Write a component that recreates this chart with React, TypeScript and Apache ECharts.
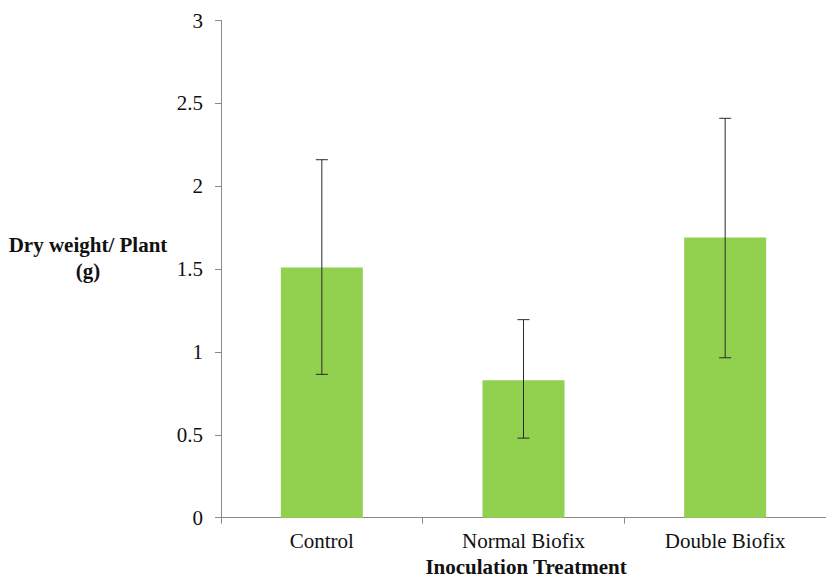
import React, { useEffect, useRef } from "react";
import * as echarts from "echarts";

const categories = ["Control", "Normal Biofix", "Double Biofix"];
const means = [1.51, 0.83, 1.69];
const errLow = [0.865, 0.48, 0.965];
const errHigh = [2.16, 1.195, 2.41];
const yTicks = [0, 0.5, 1, 1.5, 2, 2.5, 3];

export default function App() {
  const ref = useRef<HTMLDivElement>(null);
  useEffect(() => {
    if (!ref.current) return;
    const chart = echarts.init(ref.current, undefined, { renderer: "svg" });
    const font = "Times New Roman, Liberation Serif, Tinos, DejaVu Serif, serif";
    const errData = categories.map((_, i) => [i, errLow[i], errHigh[i]]);
    chart.setOption({
      animation: false,
      textStyle: { fontFamily: font },
      grid: { left: 221, top: 20.5, width: 612, bottom: 61.3, containLabel: false },
      xAxis: {
        type: "category",
        data: categories,
        axisLine: { lineStyle: { color: "#8a8a8a", width: 1 } },
        axisTick: { show: true, length: 6, lineStyle: { color: "#8a8a8a" } },
        axisLabel: { color: "#111", fontSize: 21, fontFamily: font, margin: 13 },
      },
      yAxis: {
        type: "value",
        min: yTicks[0],
        max: yTicks[yTicks.length - 1],
        interval: 0.5,
        splitLine: { show: false },
        axisLine: { show: true, lineStyle: { color: "#8a8a8a", width: 1 } },
        axisTick: { show: true, length: 6, lineStyle: { color: "#8a8a8a" } },
        axisLabel: { color: "#111", fontSize: 21, fontFamily: font, margin: 18 },
      },
      series: [
        {
          type: "bar",
          data: means,
          barWidth: 82,
          itemStyle: { color: "#92D050" },
        },
        {
          type: "custom",
          data: errData,
          z: 10,
          renderItem: (params: any, api: any) => {
            const x = api.value(0);
            const lo = api.coord([x, api.value(1)]);
            const hi = api.coord([x, api.value(2)]);
            const half = 6;
            const style = { stroke: "#2a2a2a", lineWidth: 1 };
            return {
              type: "group",
              children: [
                { type: "line", shape: { x1: lo[0], y1: lo[1], x2: hi[0], y2: hi[1] }, style },
                { type: "line", shape: { x1: hi[0] - half, y1: hi[1], x2: hi[0] + half, y2: hi[1] }, style },
                { type: "line", shape: { x1: lo[0] - half, y1: lo[1], x2: lo[0] + half, y2: lo[1] }, style },
              ],
            };
          },
        },
      ],
      graphic: [
        {
          type: "text",
          x: 88,
          y: 245,
          style: {
            text: "Dry weight/ Plant",
            fontFamily: font,
            fontSize: 21,
            fontWeight: "bold",
            fill: "#111",
            align: "center",
            verticalAlign: "middle",
          },
        },
        {
          type: "text",
          x: 88,
          y: 271,
          style: {
            text: "(g)",
            fontFamily: font,
            fontSize: 21,
            fontWeight: "bold",
            fill: "#111",
            align: "center",
            verticalAlign: "middle",
          },
        },
        {
          type: "text",
          x: 526,
          y: 567,
          style: {
            text: "Inoculation Treatment",
            fontFamily: font,
            fontSize: 21,
            fontWeight: "bold",
            fill: "#111",
            align: "center",
            verticalAlign: "middle",
          },
        },
      ],
    });
    return () => chart.dispose();
  }, []);
  return <div ref={ref} style={{ width: 826, height: 579, position: "absolute", left: 0, top: 0 }} />;
}
